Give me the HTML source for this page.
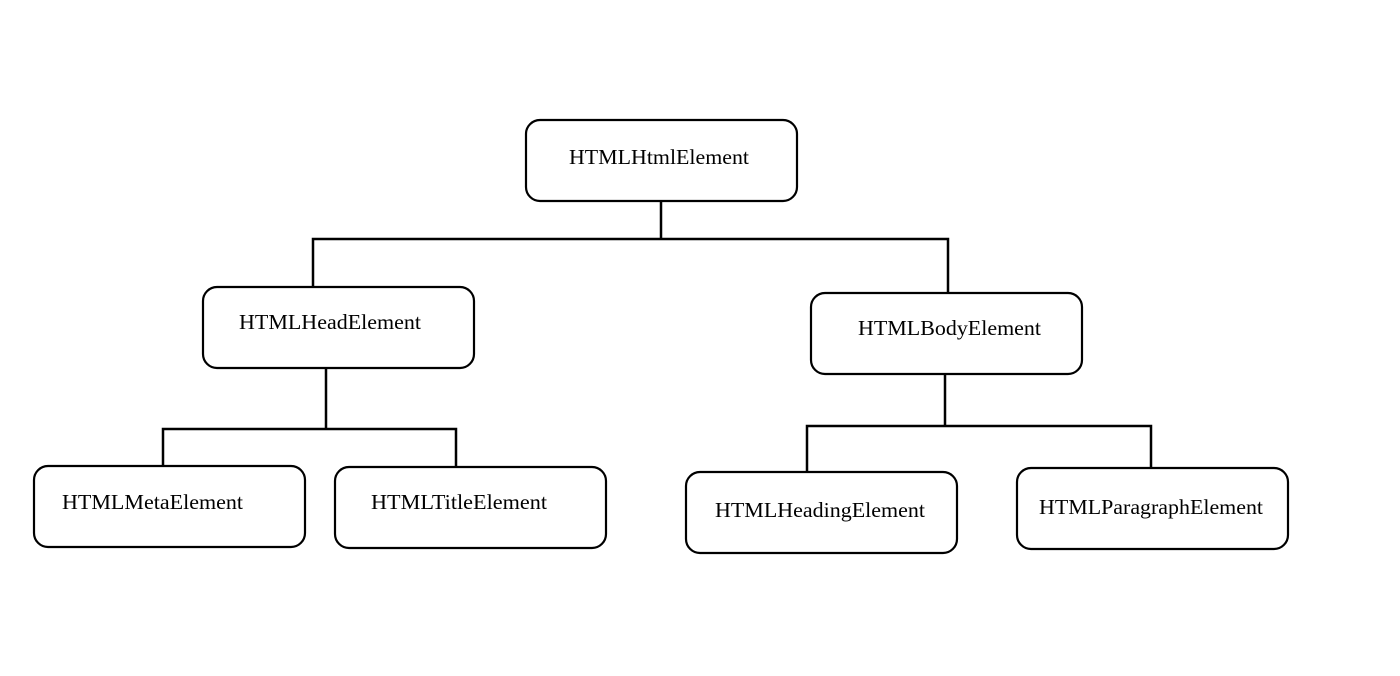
<!DOCTYPE html>
<html><head><meta charset="utf-8"><style>body{margin:0;background:#fff}</style></head><body>
<svg width="1400" height="676" xmlns="http://www.w3.org/2000/svg" style="display:block">
<g fill="#fff" stroke="#000" stroke-width="2.2">
<rect x="526" y="120" width="271" height="81" rx="14"/>
<rect x="203" y="287" width="271" height="81" rx="14"/>
<rect x="811" y="293" width="271" height="81" rx="14"/>
<rect x="34" y="466" width="271" height="81" rx="14"/>
<rect x="335" y="467" width="271" height="81" rx="14"/>
<rect x="686" y="472" width="271" height="81" rx="14"/>
<rect x="1017" y="468" width="271" height="81" rx="14"/>
</g>
<g fill="none" stroke="#000" stroke-width="2.5">
<path d="M661 201V239M313 287V239H948V293"/>
<path d="M326 368V429M163 466V429H456V467"/>
<path d="M945 374V426M807 472V426H1151V468"/>
</g>
<g font-family="Liberation Serif, serif" font-size="21" fill="#000" lengthAdjust="spacingAndGlyphs">
<text x="569" y="164" textLength="180" lengthAdjust="spacingAndGlyphs">HTMLHtmlElement</text>
<text x="239" y="329" textLength="182" lengthAdjust="spacingAndGlyphs">HTMLHeadElement</text>
<text x="858" y="335" textLength="183" lengthAdjust="spacingAndGlyphs">HTMLBodyElement</text>
<text x="62" y="509" textLength="181" lengthAdjust="spacingAndGlyphs">HTMLMetaElement</text>
<text x="371" y="509" textLength="176" lengthAdjust="spacingAndGlyphs">HTMLTitleElement</text>
<text x="715" y="517" textLength="210" lengthAdjust="spacingAndGlyphs">HTMLHeadingElement</text>
<text x="1039" y="514" textLength="224" lengthAdjust="spacingAndGlyphs">HTMLParagraphElement</text>
</g>
</svg>
</body></html>
